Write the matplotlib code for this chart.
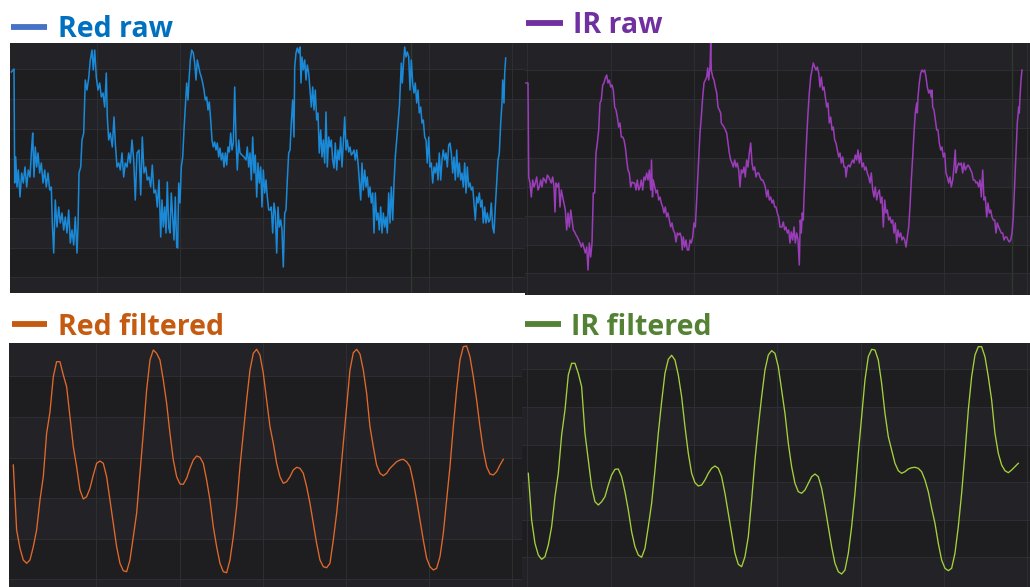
import numpy as np
import matplotlib.pyplot as plt
from matplotlib.lines import Line2D

W, H = 1030, 587

# ---------------------------------------------------------------------------
# Data: (sample position, reading).  Readings are in
# screen units (larger = lower on the plot), so the y axes are inverted below.
# ---------------------------------------------------------------------------
red_raw = [
    (11.3, 72), (14, 69), (14.7, 183), (15.7, 157), (17, 187), (18.3, 170), (20, 197), (21.7, 173),
    (23.3, 183), (25, 167), (26.7, 187), (28.3, 170), (30, 177), (31.7, 147), (32.7, 133), (34, 177),
    (35.3, 147), (36.7, 167), (38, 153), (39.7, 173), (41.3, 163), (43, 183), (44.7, 170), (46.3, 187),
    (48, 173), (49.7, 190), (51.3, 187), (52.3, 223), (53.7, 253), (55.3, 200), (57, 227), (58.7, 207),
    (60.3, 223), (62, 213), (63.7, 230), (65.3, 217), (67, 233), (68.7, 210), (70.3, 243), (72, 230),
    (73.7, 245), (75.3, 217), (77, 253), (78, 227), (79, 173), (80.7, 167), (82, 140), (83.7, 133),
    (85.3, 80), (87, 90), (88.7, 78), (90.3, 60), (92, 50), (93.3, 70), (94.7, 50), (96.3, 77),
    (98, 90), (99.7, 83), (101.3, 97), (103, 93), (104.7, 107), (106.3, 73), (107.3, 117), (108.7, 140),
    (110.3, 133), (112.3, 147), (114, 117), (115.3, 143), (117, 167), (118.7, 163), (120.3, 170), (122, 153),
    (123.7, 177), (125.3, 163), (127, 167), (128.7, 153), (130.3, 163), (132, 140), (133.7, 160), (135.3, 200),
    (137, 153), (139, 150), (140.7, 195), (142.3, 137), (144, 173), (145.7, 167), (147.3, 180), (149, 177),
    (150.7, 187), (152.3, 165), (154, 193), (155.7, 190), (157.3, 207), (159, 180), (160.7, 237), (162, 200),
    (163.3, 227), (164.7, 207), (166, 233), (167.3, 182), (168.7, 227), (170, 233), (171.3, 193), (172.7, 217),
    (174, 240), (175.3, 197), (176.7, 247), (177.7, 248), (178.7, 183), (180, 203), (181.3, 167), (182.7, 157),
    (184, 130), (185.3, 107), (186.7, 83), (188, 100), (189, 80), (190.3, 60), (191.7, 50), (193.3, 53),
    (194.7, 63), (196, 80), (197.3, 60), (198.7, 67), (200, 73), (201.3, 77), (202.7, 83), (204, 90),
    (205.3, 100), (206.7, 97), (208, 110), (209.3, 102), (210.7, 120), (212, 140), (213.3, 147), (214.7, 142),
    (216, 150), (217.3, 143), (218.7, 157), (220, 148), (221.3, 160), (222.7, 153), (224, 167), (225.3, 153),
    (226.7, 165), (228, 147), (229.3, 152), (230.7, 133), (232, 150), (233.3, 143), (234.7, 87), (236, 140),
    (237.3, 170), (238.7, 140), (240, 153), (242, 155), (244, 157), (246, 160), (247.3, 147), (248.7, 167),
    (250, 153), (251.3, 180), (252.7, 137), (254, 173), (255.3, 155), (256.7, 197), (258, 163), (259.3, 183),
    (260.7, 167), (262, 207), (263.3, 170), (264.7, 193), (266, 180), (267.3, 197), (268.7, 210), (270, 210),
    (271.3, 207), (272.7, 233), (274, 203), (275.3, 213), (276.7, 253), (278, 207), (279.3, 227), (280.7, 220),
    (282, 230), (283.3, 267), (284.7, 213), (286, 210), (287.3, 180), (288.7, 153), (290, 150), (291.3, 123),
    (292.7, 100), (294, 137), (294.7, 67), (296, 53), (297.3, 48), (298.7, 53), (300, 47), (301, 83),
    (302, 57), (303.3, 70), (304.7, 60), (306, 80), (307.3, 65), (308.7, 73), (310, 90), (311.3, 107),
    (312.7, 87), (314, 110), (315.3, 90), (316.7, 120), (318, 113), (319.3, 153), (320.7, 130), (322, 157),
    (323.3, 140), (324.7, 163), (326, 112), (327.3, 167), (328.7, 137), (330, 147), (331.3, 140), (332.7, 160),
    (334, 168), (335.3, 143), (336.7, 170), (338, 150), (339.3, 160), (340.7, 137), (342, 167), (343.3, 143),
    (344.7, 117), (346, 150), (347.3, 140), (348.7, 152), (350, 147), (351.3, 155), (352.7, 153), (354, 150),
    (355.3, 160), (356.7, 150), (358, 163), (359.3, 180), (360.7, 200), (362, 163), (363.3, 190), (364.7, 170),
    (366, 187), (367.3, 177), (368.7, 197), (370, 187), (371.3, 203), (372.7, 193), (374, 233), (375.3, 193),
    (376.7, 220), (378, 213), (379.3, 230), (380.7, 207), (382, 233), (383.3, 213), (384.7, 227), (386, 217),
    (387.3, 233), (388.7, 193), (390, 223), (391.3, 187), (392.7, 220), (394, 183), (395.3, 157), (396.7, 140),
    (398, 123), (399.5, 105), (401.3, 63), (402.3, 83), (403.7, 60), (404.7, 47), (406, 57), (407.3, 52),
    (408.7, 57), (410, 90), (411.3, 60), (412.7, 83), (414, 93), (415.3, 83), (416.7, 103), (418, 90),
    (419.3, 113), (420.7, 107), (422, 123), (423.3, 120), (424.7, 137), (426, 140), (427.3, 163), (428.7, 137),
    (430, 167), (431.3, 163), (432.7, 183), (434, 167), (435.3, 173), (436.7, 163), (438, 180), (439.3, 153),
    (440.7, 180), (442, 160), (443.3, 150), (444.7, 160), (446, 153), (447.3, 167), (448.7, 145), (450, 143),
    (451.3, 153), (452.7, 173), (454, 157), (455.3, 180), (456.7, 150), (458, 177), (459.3, 163), (460.7, 180),
    (462, 173), (463.3, 187), (464.7, 163), (466, 193), (467.3, 167), (468.7, 187), (470, 183), (471.3, 190),
    (472.7, 187), (474, 203), (475.3, 220), (476.7, 197), (478, 203), (479.3, 193), (480.7, 207), (482, 200),
    (483.3, 223), (484.7, 207), (486, 223), (487.3, 213), (488.7, 222), (490, 220), (491.3, 203), (492.7, 227),
    (494, 233), (495.3, 207), (496.7, 183), (498, 160), (499.3, 153), (500.7, 123), (502, 103), (502.7, 80),
    (504, 103), (504.7, 73), (505.7, 58),
]

ir_raw = [
    (526, 83), (528, 83), (528.7, 177), (530, 183), (531.3, 197), (532.7, 180), (534, 187), (535.3, 183),
    (536.7, 177), (538, 190), (539.3, 187), (540.7, 180), (542, 187), (543.3, 178), (544.7, 180), (546, 183),
    (547.3, 175), (548.7, 177), (550, 180), (551.3, 183), (552.7, 177), (554, 187), (555, 212), (556, 183),
    (557.3, 187), (558.7, 183), (560, 207), (561.3, 190), (562.7, 197), (564, 203), (565.3, 210), (566.7, 230),
    (568, 213), (569.3, 227), (570.7, 210), (572, 220), (573.3, 230), (574.7, 232), (576, 235), (577.3, 237),
    (578.7, 240), (580, 243), (581.3, 247), (582.7, 243), (584, 248), (585.3, 253), (586.7, 247), (588, 270),
    (589.3, 243), (590.7, 257), (592, 243), (593.3, 193), (594.7, 193), (596, 153), (597.3, 143), (598.7, 130),
    (600, 103), (601.3, 100), (602.7, 85), (604, 83), (605.3, 78), (606.7, 75), (608, 83), (609.3, 80),
    (610.7, 87), (612, 85), (613.3, 90), (614.7, 107), (616, 110), (617.3, 117), (618.7, 127), (620, 123),
    (621.3, 137), (622.7, 137), (624, 140), (625.3, 147), (626.7, 160), (628, 170), (629.3, 173), (630.7, 187),
    (632, 182), (633.3, 183), (634.7, 183), (636, 190), (637.3, 180), (638.7, 190), (640, 187), (641.3, 180),
    (642.7, 190), (644, 177), (645.3, 180), (646.7, 173), (648, 180), (649.3, 170), (650.7, 190), (651.5, 160),
    (652.5, 197), (653.3, 180), (654.7, 187), (656, 193), (657.3, 190), (658.7, 200), (660, 197), (661.3, 203),
    (662.7, 207), (664, 213), (665.3, 207), (666.7, 217), (668, 213), (669.3, 220), (670.7, 227), (672, 223),
    (673.3, 230), (674.7, 233), (676, 242), (677.3, 233), (678.7, 235), (680, 233), (681.3, 237), (682.3, 250),
    (683.3, 237), (684.7, 247), (686, 240), (687.3, 250), (688.7, 250), (690, 240), (691.3, 243), (692.7, 237),
    (694, 223), (695.3, 227), (696, 213), (697.3, 187), (698.7, 160), (700, 133), (701.3, 117), (702.7, 97),
    (704, 83), (705.3, 80), (706.7, 77), (707.7, 68), (708.7, 80), (710, 67), (710.7, 43), (711.3, 70),
    (712.7, 77), (714, 80), (715.3, 87), (716.7, 93), (718, 107), (719.3, 110), (720.7, 113), (721.3, 123),
    (722.7, 125), (724, 127), (725.3, 130), (726.7, 133), (728, 143), (729.3, 153), (730.7, 160), (732, 163),
    (733.3, 167), (734.7, 160), (736, 167), (737.3, 163), (738.7, 170), (740, 187), (741.3, 170), (742.7, 173),
    (744, 167), (745.3, 177), (746.7, 160), (748, 167), (749.3, 153), (750.7, 143), (752, 163), (753.3, 170),
    (754.7, 167), (756, 177), (757.3, 173), (758.7, 173), (760, 177), (761.3, 180), (762.7, 180), (764, 183),
    (765.3, 187), (766.7, 197), (768, 190), (769.3, 200), (770.7, 197), (772, 203), (773.3, 200), (774.7, 207),
    (776, 207), (777.3, 213), (778.7, 217), (780, 227), (782, 227), (783.3, 222), (784.7, 230), (786, 227),
    (787.3, 233), (788.7, 230), (790, 243), (791.3, 232), (792.7, 240), (794, 227), (795.3, 243), (796.7, 233),
    (798, 240), (799.3, 265), (800.3, 220), (801.3, 233), (802.3, 213), (803.3, 220), (804, 197), (805.3, 167),
    (806.7, 137), (808, 113), (809.3, 93), (810.7, 77), (812, 70), (813.3, 63), (814.7, 67), (816, 70),
    (817.3, 67), (818.7, 73), (820, 87), (821.3, 77), (822.7, 90), (824, 87), (825.3, 97), (826.7, 107),
    (828, 103), (829.3, 123), (830.7, 117), (832, 130), (833.3, 127), (834.7, 140), (836, 143), (837.3, 150),
    (838.7, 157), (840, 153), (841.3, 163), (842.7, 157), (844, 167), (845.3, 167), (846, 177), (847.3, 167),
    (848.7, 165), (850, 167), (851.3, 163), (852.7, 160), (854, 163), (855.3, 155), (856.7, 160), (858, 150),
    (859.3, 163), (860.7, 153), (862, 167), (863.3, 163), (864.7, 170), (866, 167), (867.3, 173), (868.7, 177),
    (870, 183), (871.3, 173), (872.7, 190), (874, 197), (875.3, 187), (876.7, 200), (878, 193), (879.3, 190),
    (880.7, 203), (882, 197), (883.3, 227), (884.7, 200), (886, 213), (887.3, 210), (888.7, 220), (890, 217),
    (891.3, 223), (892.7, 220), (894, 233), (895.3, 223), (896.7, 243), (898, 230), (899.3, 237), (900.7, 233),
    (902, 240), (903.3, 237), (904.7, 240), (906, 247), (907.3, 237), (908.7, 227), (910, 207), (911.3, 180),
    (912.7, 157), (914, 133), (915.3, 113), (916.7, 103), (917.3, 113), (918, 97), (919.3, 83), (920.7, 73),
    (922, 70), (923.3, 72), (924.7, 70), (926, 77), (927.3, 87), (928.7, 93), (930, 90), (931.3, 97),
    (932, 90), (932.7, 107), (934, 110), (935.3, 120), (936.7, 130), (938, 130), (939.3, 143), (940.7, 150),
    (942, 147), (943.3, 157), (944.7, 153), (946, 173), (947.3, 177), (948.7, 183), (950, 177), (951.3, 187),
    (952.7, 180), (954, 167), (955.3, 150), (956, 173), (957.3, 167), (958.7, 163), (960, 165), (961.3, 163),
    (962.7, 173), (964, 163), (965.3, 170), (966.7, 167), (968, 165), (969.3, 167), (970.7, 170), (972, 173),
    (973.3, 180), (974.7, 180), (976, 183), (977.3, 182), (978.7, 187), (980, 180), (981.3, 197), (982.7, 170),
    (984, 200), (985.3, 197), (986.7, 217), (988, 203), (989.3, 213), (990.7, 210), (992, 217), (993.3, 220),
    (994.7, 220), (996, 233), (997.3, 223), (998.7, 227), (1000, 230), (1001.3, 233), (1002.7, 233), (1004, 240),
    (1005.3, 237), (1006.7, 237), (1008, 240), (1009.3, 242), (1010.7, 240), (1012, 233), (1013.3, 217),
    (1014.7, 183), (1016, 153), (1017.3, 123), (1018.7, 107), (1019.3, 113), (1020, 97), (1021, 80), (1022, 70),
]

# filtered signals: evenly spaced samples
filt_step = 10 / 3
red_filt_t0 = 13.3
red_filt = [
    465, 530, 548.3, 560, 563.3, 560, 546.7, 530, 500, 476.7, 433.3, 412, 376.7, 361.7, 361.7, 375,
    386.7, 416.7, 446.7, 466.7, 490, 499, 496.7, 488.3, 475, 463.3, 461, 463.3, 476.7, 500, 523.3, 546.7,
    563.3, 570.7, 571.7, 560, 536.7, 513.3, 473.3, 433.3, 390, 360, 350, 353.3, 360, 380, 403.3, 433.3,
    460, 476.7, 484, 484.3, 478.3, 468.3, 460, 456, 457.3, 463.3, 480, 500, 526.7, 546.7, 563.3, 571.7,
    572.7, 560, 536.7, 506.7, 466.7, 433.3, 400, 370, 353.3, 349.3, 355, 373.3, 400, 426.7, 443.3, 463.3,
    476.7, 483.3, 481.7, 476.7, 470, 467.3, 468.3, 473.3, 486.7, 503.3, 523.3, 543.3, 560, 566.7, 567.7, 563.3,
    540, 513.3, 480, 443.3, 406.7, 370, 352.7, 349.3, 354, 370, 393.3, 426.7, 446.7, 465, 473.3, 475.7,
    473.3, 468.3, 465, 461.7, 460, 459.3, 461.7, 466.7, 481.7, 500, 520, 540, 558.3, 566.7, 570, 568.3,
    556.7, 533.3, 500, 466.7, 426.7, 390, 360, 346.7, 346, 356.7, 376.7, 400, 426.7, 450, 466.7, 474,
    475, 471.7, 465, 459.3,
]

ir_filt_t0 = 528.3
ir_filt = [
    473.3, 520, 543.3, 555, 559.3, 556.7, 545, 526.7, 496.7, 473.3, 435, 410, 375, 363.3, 363.3, 373.3,
    386.7, 433.3, 460, 486.7, 501.7, 505, 501.7, 496.7, 485, 475, 469.3, 469, 476.7, 491.7, 510, 531.7,
    546.7, 555, 557.3, 548.3, 526.7, 503.3, 470, 433.3, 401.7, 373.3, 359.3, 355.3, 360, 375, 396.7, 426.7,
    453.3, 473.3, 482.7, 486, 485, 480, 473.3, 468.3, 466, 468.3, 476.7, 493.3, 513.3, 533.3, 553.3, 564.3,
    566.7, 556.7, 536.7, 500, 460, 426.7, 396.7, 370, 355, 350.7, 353.3, 366.7, 390, 413.3, 443.3, 466.7,
    483.3, 491.7, 493.3, 490, 483.3, 476.7, 474, 476.7, 488.3, 506.7, 526.7, 546.7, 563.3, 571.7, 574, 570,
    553.3, 526.7, 493.3, 453.3, 416.7, 380, 356.7, 349.3, 350, 360, 383.3, 413.3, 436.7, 450, 463.3, 470.7,
    473.3, 471.7, 469, 467.7, 467.3, 468.3, 471.7, 480, 491.7, 508.3, 523.3, 543.3, 560, 568.3, 570.7, 568.3,
    553.3, 526.7, 493.3, 453.3, 410, 376.7, 355, 346.7, 346.7, 356.7, 376.7, 400, 433.3, 453.3, 465, 470.7,
    472.7, 470, 466.7, 463.3,
]

titles = ["Red raw", "IR raw", "Red filtered", "IR filtered"]
title_colors = ["#0070C0", "#7030A0", "#C55A11", "#548235"]
dash_colors = ["#4472C4", "#7030A0", "#C55A11", "#548235"]
line_colors = ["#1a8ad8", "#9a3db8", "#e2692a", "#a4d13c"]
line_widths = [1.1, 1.1, 0.95, 0.95]

# panel boxes in screen pixels: left, top, right, bottom
boxes = [(10, 43, 525, 293), (525, 43, 1030, 295), (9, 343, 522, 587), (522, 343, 1030, 587)]
vgrid = [[97, 180, 263, 346, 429, 512], [527, 611, 694, 777, 861, 944, 1027],
         [96, 180, 263, 346, 429, 512], [527, 611, 694, 777, 861, 944, 1027]]
hgrid = [[69, 99, 129, 159, 188, 218, 248, 277], [70, 99, 128, 158, 187, 216, 245, 273],
         [376, 417, 458, 498, 539, 579], [369, 407, 445, 482, 520, 557]]
marker_lines = [[411], [1012], [], []]

BG = "#232327"
BAND = "#1e1e21"
GRID = "#2d2e32"

fig = plt.figure(figsize=(W / 100, H / 100), dpi=100)
fig.patch.set_facecolor("white")

series = [
    np.array(red_raw).T,
    np.array(ir_raw).T,
    (red_filt_t0 + filt_step * np.arange(len(red_filt)), np.array(red_filt)),
    (ir_filt_t0 + filt_step * np.arange(len(ir_filt)), np.array(ir_filt)),
]

for i, (l, t, r, b) in enumerate(boxes):
    ax = fig.add_axes([l / W, 1 - b / H, (r - l) / W, (b - t) / H])
    ax.set_facecolor(BG)
    ax.set_xlim(l, r)
    ax.set_ylim(b, t)

    # alternating darker bands
    edges = [t] + hgrid[i] + [b]
    for k in range(1, len(edges) - 1, 2):
        ax.axhspan(edges[k], edges[k + 1], color=BAND, lw=0, zorder=0)

    ax.set_xticks(vgrid[i])
    ax.set_yticks(hgrid[i])
    ax.grid(True, color=GRID, lw=0.8)
    ax.tick_params(length=0, labelbottom=False, labelleft=False)
    for s in ax.spines.values():
        s.set_visible(False)
    for xm in marker_lines[i]:
        ax.axvline(xm, color="#2c3b2c", lw=0.9, zorder=1)

    x, y = series[i]
    ax.plot(x, y, color=line_colors[i], lw=line_widths[i], zorder=3,
            solid_joinstyle="round")

# titles with a short colored dash in front
title_pos = [(11, 47, 27, 58, 37), (526, 563, 23, 573, 33), (12, 47, 324, 58, 335), (525, 561, 324, 571, 335)]
for i, (d0, d1, dy, tx, ty) in enumerate(title_pos):
    fig.add_artist(Line2D([d0 / W, d1 / W], [1 - dy / H, 1 - dy / H], transform=fig.transFigure,
                          color=dash_colors[i], lw=4.2, solid_capstyle="butt"))
    fig.text(tx / W, 1 - ty / H, titles[i], color=title_colors[i], fontsize=20.5,
             fontweight="bold", family="Open Sans", va="baseline", ha="left")

fig.savefig("out.png", dpi=100, facecolor="white")
